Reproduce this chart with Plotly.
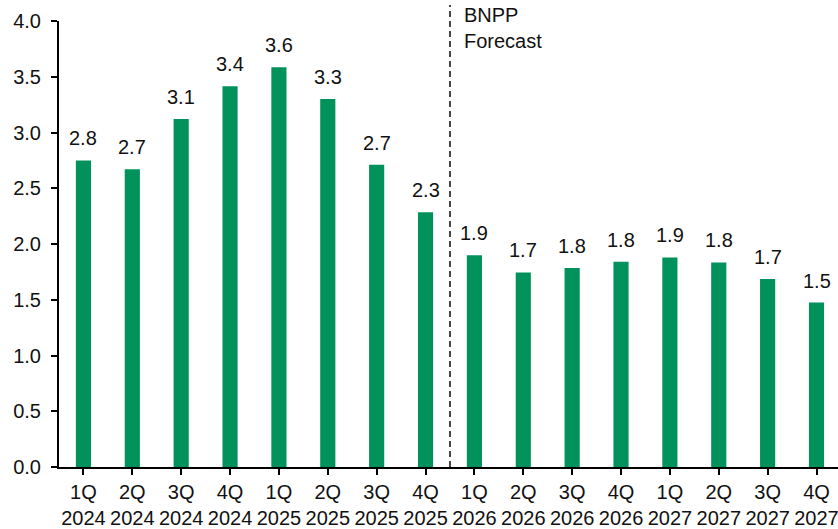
import plotly.graph_objects as go

quarters = ["1Q", "2Q", "3Q", "4Q", "1Q", "2Q", "3Q", "4Q",
            "1Q", "2Q", "3Q", "4Q", "1Q", "2Q", "3Q", "4Q"]
years = ["2024"] * 4 + ["2025"] * 4 + ["2026"] * 4 + ["2027"] * 4
values = [2.75, 2.67, 3.12, 3.415, 3.585, 3.30, 2.71, 2.285,
          1.90, 1.745, 1.785, 1.84, 1.88, 1.835, 1.685, 1.475]
forecast_label = "BNPP<br>Forecast"

labels = [f"{q}<br>{y}" for q, y in zip(quarters, years)]
xs = list(range(len(values)))

GREEN = "#00925A"
FONT = "Liberation Sans, Arial, sans-serif"
FS = 20

fig = go.Figure()
fig.add_trace(go.Bar(
    x=xs, y=values, width=0.31,
    marker=dict(color=GREEN, line=dict(width=0)),
    hoverinfo="skip",
))

for x, v in zip(xs, values):
    fig.add_annotation(x=x, y=v, text=f"{v:.1f}", showarrow=False,
                       yanchor="bottom", xanchor="center", yshift=9,
                       font=dict(family=FONT, size=FS, color="#111111"))

# forecast divider
fig.add_shape(type="line", x0=7.5, x1=7.5, y0=0, y1=1.036, xref="x", yref="paper",
              line=dict(color="#444444", width=2, dash="6px,4px"))
fig.add_annotation(x=7.5, y=1.0, xref="x", yref="paper", text=forecast_label,
                   showarrow=False, xanchor="left", yanchor="top", align="left",
                   xshift=12, yshift=19,
                   font=dict(family=FONT, size=FS, color="#111111"))

fig.update_layout(
    width=838, height=529,
    margin=dict(l=59, r=0, t=21, b=62),
    paper_bgcolor="white", plot_bgcolor="white",
    showlegend=False,
    font=dict(family=FONT, size=FS, color="#111111"),
)
fig.update_xaxes(
    tickmode="array", tickvals=xs, ticktext=labels,
    range=[-0.5, 15.44], tickson="boundaries",
    showline=True, linecolor="black", linewidth=2,
    ticks="outside", ticklen=6, tickwidth=2, tickcolor="black",
    showgrid=False, zeroline=False, tickangle=0,
    ticklabeloverflow="allow",
    tickfont=dict(family=FONT, size=FS, color="#111111"),
)
fig.update_yaxes(
    range=[0, 4.0], tickmode="array",
    tickvals=[0, 0.5, 1.0, 1.5, 2.0, 2.5, 3.0, 3.5, 4.0],
    ticktext=["0.0", "0.5", "1.0", "1.5", "2.0", "2.5", "3.0", "3.5", "4.0"],
    showline=True, linecolor="black", linewidth=2,
    ticks="outside", ticklen=6, tickwidth=2, tickcolor="black",
    showgrid=False, zeroline=False, ticklabelstandoff=6,
    tickfont=dict(family=FONT, size=FS, color="#111111"),
)

fig.write_html("out.html")
